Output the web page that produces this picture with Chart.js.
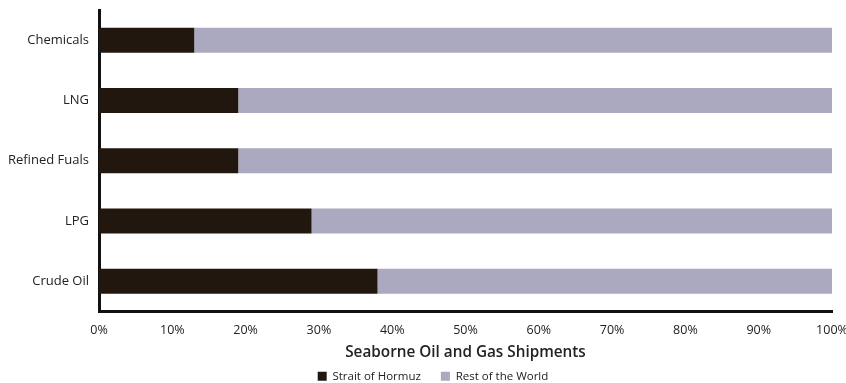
<!DOCTYPE html>
<html>
<head>
<meta charset="utf-8">
<script src="https://cdn.jsdelivr.net/npm/chart.js@4/dist/chart.umd.min.js"></script>
<style>
  html, body { margin: 0; padding: 0; background: #fff; }
  #wrap { width: 846px; height: 383px; }
</style>
</head>
<body>
<div id="wrap"><canvas id="c" width="846" height="383"></canvas></div>
<script>
const categories = ["Chemicals", "LNG", "Refined Fuals", "LPG", "Crude Oil"];
const hormuz = [13, 19, 19, 29, 38];
const restOfWorld = [87, 81, 81, 71, 62];
const xTickLabels = ["0%", "10%", "20%", "30%", "40%", "50%", "60%", "70%", "80%", "90%", "100%"];
const seriesNames = ["Strait of Hormuz", "Rest of the World"];
const axisTitle = "Seaborne Oil and Gas Shipments";

const FONT = "'Open Sans', 'DejaVu Sans', sans-serif";

const legendPlace = {
  id: 'legendPlace',
  afterLayout(chart) {
    const lg = chart.legend;
    if (!lg) return;
    const h = lg.height;
    lg.top = 350.5; lg.bottom = lg.top + h;
    lg.left += 10; lg.right += 10;
  }
};

new Chart(document.getElementById('c'), {
  type: 'bar',
  data: {
    labels: categories,
    datasets: [
      { label: seriesNames[0], data: hormuz, backgroundColor: '#22170f', borderWidth: 0,
        barPercentage: 0.414, categoryPercentage: 1 },
      { label: seriesNames[1], data: restOfWorld, backgroundColor: '#aaa9bf', borderWidth: 0,
        barPercentage: 0.414, categoryPercentage: 1 }
    ]
  },
  options: {
    indexAxis: 'y',
    responsive: false,
    animation: false,
    devicePixelRatio: 1,
    layout: { padding: { top: 0, right: 0, bottom: -23, left: 0 } },
    plugins: {
      legend: {
        position: 'bottom',
        labels: {
          font: { family: FONT, size: 11.5, weight: '500' },
          color: '#222',
          boxWidth: 9,
          boxHeight: 9,
          padding: 20
        }
      },
      tooltip: { enabled: false },
      title: { display: false }
    },
    scales: {
      x: {
        stacked: true,
        min: 0,
        max: 100,
        grid: { display: false, drawTicks: false },
        border: { display: true, color: '#111', width: 3 },
        ticks: {
          stepSize: 10,
          autoSkip: false,
          maxRotation: 0,
          padding: 11,
          color: '#222',
          font: { family: FONT, size: 12.5, weight: '500' },
          callback: (v, i) => xTickLabels[i]
        },
        title: {
          display: true,
          text: axisTitle,
          color: '#222',
          font: { family: FONT, size: 15.3, weight: '600' },
          padding: { top: 0, bottom: 3 }
        },
        afterFit(scale) {
          scale.height = 53;
          scale.paddingLeft = 0;
          scale.paddingRight = 14;
        }
      },
      y: {
        stacked: true,
        grid: { display: false, drawTicks: false },
        border: { display: true, color: '#111', width: 3 },
        ticks: {
          padding: 10,
          color: '#222',
          font: { family: FONT, size: 13, weight: '500' }
        },
        afterFit(scale) {
          scale.width = 99;
          scale.paddingTop = 10;
          scale.paddingBottom = 0;
        }
      }
    }
  },
  plugins: [legendPlace]
});
</script>
</body>
</html>
